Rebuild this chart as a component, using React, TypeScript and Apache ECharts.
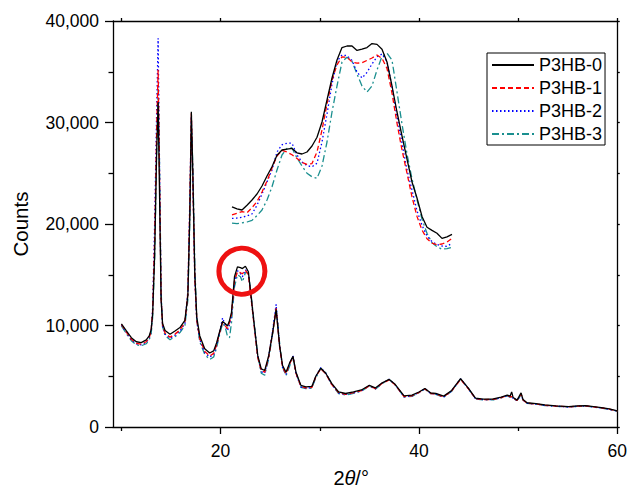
import React, { useEffect, useRef } from "react";
import * as echarts from "echarts";

const seriesNames = ["P3HB-0", "P3HB-1", "P3HB-2", "P3HB-3"];

const twoTheta = [
  10, 10.5, 11, 11.5, 12, 12.5, 12.8, 13.0, 13.15, 13.35, 13.55, 13.7, 13.85, 14.0, 14.15, 14.4, 14.9, 15.4, 15.9, 16.4,
  16.7, 16.9, 17.05, 17.2, 17.4, 17.6, 17.9, 18.4, 18.9, 19.3, 19.6, 19.9, 20.2, 20.45, 20.7, 20.9, 21.1, 21.4, 21.7, 22.0,
  22.2, 22.5, 22.8, 23.05, 23.4, 23.75, 24.1, 24.45, 24.85, 25.25, 25.6, 25.95, 26.25, 26.6, 27.0, 27.3, 27.6, 28.1, 28.6, 29.2,
  29.6, 30.1, 30.6, 31.2, 31.9, 32.6, 33.4, 34.2, 35.0, 35.6, 36.3, 37.0, 37.6, 38.5, 39.3, 40.0, 40.6, 41.2, 41.7, 42.5,
  43.3, 44.2, 45.0, 45.7, 46.5, 47.5, 48.3, 48.9, 49.2, 49.35, 49.5, 49.9, 50.3, 50.5, 50.9, 51.8, 52.7, 53.8, 55.1, 56.0,
  56.8, 57.6, 58.4, 59.2, 60,
];

const p3hb0 = [
  10170, 9460, 8800, 8400, 8320, 8580, 8970, 9600, 11200, 17000, 27000, 32000, 22500, 12500, 10200, 9500, 9140, 9460, 9800, 10500,
  13000, 21000, 31060, 25000, 15000, 10800, 8970, 7700, 7290, 7500, 8300, 9400, 10400, 10200, 9950, 10500, 11300, 14800, 15780, 15700,
  15610, 15840, 15300, 13100, 10000, 7030, 5730, 5570, 7030, 9290, 11570, 8000, 6060, 5400, 6400, 6960, 5400, 4100, 3950, 4000,
  5000, 5790, 5300, 4300, 3450, 3300, 3450, 3650, 4110, 3850, 4350, 4690, 4200, 3070, 3140, 3450, 3790, 3350, 3320, 3040,
  3600, 4760, 3800, 2850, 2750, 2760, 2950, 3140, 3050, 3460, 2900, 2650, 3360, 2700, 2390, 2300, 2170, 2080, 2000, 2080,
  2100, 2000, 1900, 1780, 1580,
];

const p3hb1 = [
  10100, 9350, 8650, 8250, 8150, 8400, 8800, 9450, 11500, 18500, 29000, 35200, 24000, 12800, 10000, 9250, 8850, 9150, 9550, 10300,
  13200, 22000, 30900, 24500, 14600, 10500, 8700, 7450, 7000, 7250, 8100, 9300, 10300, 10000, 9700, 10300, 11100, 14400, 15300, 15200,
  15100, 15450, 15000, 12900, 9800, 6850, 5550, 5400, 6900, 9300, 11700, 7900, 5900, 5250, 6300, 6900, 5300, 4000, 3850, 3900,
  4950, 5750, 5250, 4200, 3380, 3220, 3380, 3580, 4050, 3780, 4300, 4650, 4150, 3000, 3080, 3400, 3750, 3300, 3260, 2980,
  3550, 4700, 3750, 2800, 2700, 2720, 2900, 3100, 2980, 3000, 2850, 2620, 3250, 2650, 2350, 2270, 2140, 2060, 1980, 2050,
  2080, 1980, 1880, 1760, 1570,
];

const p3hb2 = [
  10050, 9300, 8600, 8200, 8100, 8350, 8750, 9400, 11800, 20000, 31000, 38300, 25000, 12900, 9900, 9150, 8750, 9050, 9450, 10200,
  13400, 22500, 30600, 24500, 14500, 10400, 8600, 7350, 6900, 7150, 8050, 9350, 10750, 10100, 9500, 10100, 11000, 14300, 15400, 15100,
  14800, 15500, 15100, 13000, 9900, 6900, 5450, 5300, 6950, 9500, 12080, 8000, 5850, 5200, 6350, 7000, 5250, 3950, 3820, 3880,
  5000, 5850, 5300, 4200, 3350, 3200, 3360, 3570, 4080, 3760, 4320, 4700, 4150, 2980, 3060, 3400, 3780, 3290, 3250, 2960,
  3560, 4750, 3760, 2780, 2690, 2700, 2890, 3080, 2960, 2980, 2840, 2600, 3200, 2640, 2340, 2260, 2130, 2050, 1970, 2040,
  2070, 1970, 1870, 1750, 1560,
];

const p3hb3 = [
  9950, 9200, 8500, 8100, 8000, 8200, 8600, 9200, 10800, 16500, 27000, 33300, 25500, 13500, 9900, 9000, 8600, 8900, 9300, 10000,
  12500, 20500, 29800, 26000, 16000, 10500, 8400, 7150, 6650, 6900, 7800, 9100, 10200, 9900, 8900, 8800, 10300, 13800, 15000, 14800,
  14300, 15200, 15200, 13300, 10100, 6900, 5300, 5100, 6700, 9200, 11800, 8300, 5900, 5050, 6100, 6900, 5400, 3900, 3780, 3820,
  4850, 5800, 5350, 4250, 3300, 3150, 3320, 3530, 4050, 3720, 4280, 4680, 4180, 2950, 3020, 3370, 3760, 3270, 3220, 2930,
  3520, 4720, 3780, 2760, 2670, 2680, 2870, 3060, 2950, 2970, 2820, 2590, 3180, 2630, 2330, 2250, 2120, 2040, 1960, 2030,
  2060, 1960, 1860, 1740, 1550,
];

// Inset (magnified view of the circled region)
const insetTwoTheta = [
  21.0, 21.05, 21.1, 21.15, 21.2, 21.25, 21.3, 21.35, 21.4, 21.45, 21.5, 21.55, 21.6, 21.65, 21.7,
  21.75, 21.8, 21.85, 21.9, 21.95, 22.0, 22.05, 22.1, 22.15, 22.2, 22.25, 22.3, 22.35, 22.4, 22.45,
  22.5, 22.55, 22.6, 22.65, 22.7, 22.75, 22.8, 22.85, 22.9, 22.95, 23.0, 23.05, 23.1, 23.15, 23.2,
];
const insetP3hb0 = [
  11780, 11730, 11700, 11820, 11950, 12100, 12300, 12550, 12780, 13070, 13200, 13220, 13240, 13130, 13100,
  13150, 13300, 13520, 13900, 14450, 15000, 15450, 15760, 15800, 15800, 15690, 15720, 15760, 15860, 15840,
  15720, 15400, 14800, 14150, 13550, 12970, 12400, 12000, 11540, 11270, 11190, 11120, 10990, 11030, 11090,
];
const insetP3hb1 = [
  11580, 11620, 11660, 11630, 11760, 11910, 12150, 12420, 12750, 13050, 13190, 13150, 13080, 12990, 12890,
  12840, 12860, 13150, 13700, 14350, 14950, 15330, 15530, 15520, 15400, 15370, 15380, 15440, 15500, 15575,
  15490, 15240, 14620, 13870, 13200, 12620, 12030, 11540, 11200, 10980, 10870, 10830, 10850, 10900, 10990,
];
const insetP3hb2 = [
  11490, 11500, 11520, 11550, 11600, 11820, 12100, 12400, 12700, 13150, 13330, 13370, 13370, 13075, 12900,
  12810, 12780, 12870, 13400, 14100, 14850, 15420, 15575, 15560, 15440, 15150, 15000, 15140, 15350, 15530,
  15600, 15410, 14780, 14030, 13370, 12700, 12200, 11680, 11320, 11050, 10910, 10840, 10800, 10790, 10870,
];
const insetP3hb3 = [
  11370, 11360, 11380, 11400, 11440, 11560, 11700, 11950, 12280, 12700, 13075, 13240, 13250, 13000, 12800,
  12620, 12530, 12490, 12800, 13400, 14150, 14800, 15400, 15520, 15420, 15100, 14800, 14650, 14800, 15200,
  15540, 15620, 15450, 14650, 13850, 13100, 12480, 11960, 11470, 11120, 10880, 10780, 10720, 10735, 10770,
];

const xMajorTicks = [20, 40, 60];
const xMinorTicks = [10, 30, 50];
const xTopTicks = [10, 20, 30, 40, 50, 60];
const circleCenter = [22.15, 15350];

const FONT = "'Liberation Sans', Arial, Helvetica, sans-serif";
const colors = ["#000000", "#ff0000", "#0000ff", "#1a8f8f"];
const dashTypes: any[] = ["solid", [5, 3], [1.5, 2.5], [7, 3, 2, 3]];

export default function App() {
  const ref = useRef<HTMLDivElement>(null);

  useEffect(() => {
    if (!ref.current) return;
    const chart = echarts.init(ref.current, null, { renderer: "svg" });

    const mainData = [p3hb0, p3hb1, p3hb2, p3hb3];
    const insetData = [insetP3hb0, insetP3hb1, insetP3hb2, insetP3hb3];

    const mainSeries = seriesNames.map((name, k) => ({
      name,
      type: "line",
      xAxisIndex: 0,
      yAxisIndex: 0,
      symbol: "none",
      showSymbol: false,
      z: 4 - k,
      data: twoTheta.map((x, i) => [x, mainData[k][i]]),
      lineStyle: { color: colors[k], width: 1.3, type: dashTypes[k] },
      itemStyle: { color: colors[k] },
    }));

    const insetSeries = seriesNames.map((name, k) => ({
      name,
      type: "line",
      xAxisIndex: 4,
      yAxisIndex: 2,
      symbol: "none",
      showSymbol: false,
      clip: false,
      z: 4 - k,
      data: insetTwoTheta.map((x, i) => [x, insetData[k][i]]),
      lineStyle: { color: colors[k], width: 1.3, type: dashTypes[k] },
      itemStyle: { color: colors[k] },
    }));

    const axisLineStyle = { color: "#000", width: 1.3 };
    const labelStyle = { color: "#000", fontSize: 17.5, fontFamily: FONT };

    const option: any = {
      animation: false,
      backgroundColor: "#fff",
      grid: [
        { left: 113, right: 11, top: 21, bottom: 61, containLabel: false },
        { left: 232, width: 223, top: 30, height: 230, containLabel: false },
      ],
      legend: {
        orient: "vertical",
        left: 487,
        top: 53,
        padding: [3, 3, 2, 4],
        itemWidth: 42,
        itemHeight: 14,
        itemGap: 5,
        borderColor: "#000",
        borderWidth: 1,
        borderRadius: 0,
        backgroundColor: "#fff",
        data: seriesNames,
        itemStyle: { opacity: 0 },
        textStyle: { color: "#000", fontSize: 18, fontFamily: FONT },
        selectedMode: false,
      },
      xAxis: [
        {
          type: "value",
          gridIndex: 0,
          position: "bottom",
          min: 9.15,
          max: 60,
          name: "2{i|θ}/°",
          nameLocation: "middle",
          nameGap: 41,
          nameTextStyle: {
            color: "#000",
            fontSize: 20,
            fontFamily: FONT,
            padding: [0, 28, 0, 0],
            rich: { i: { fontStyle: "italic", fontSize: 20, fontFamily: FONT, color: "#000" } },
          },
          axisLine: { show: true, lineStyle: axisLineStyle },
          axisTick: { show: true, inside: false, length: 7, lineStyle: axisLineStyle, customValues: xMajorTicks },
          axisLabel: { show: true, margin: 15, ...labelStyle, customValues: xMajorTicks },
          splitLine: { show: false },
        },
        {
          type: "value",
          gridIndex: 0,
          position: "bottom",
          min: 9.15,
          max: 60,
          axisLine: { show: false },
          axisTick: { show: true, inside: false, length: 4, lineStyle: axisLineStyle, customValues: xMinorTicks },
          axisLabel: { show: false },
          splitLine: { show: false },
        },
        {
          type: "value",
          gridIndex: 0,
          position: "top",
          min: 9.15,
          max: 60,
          axisLine: { show: true, lineStyle: axisLineStyle },
          axisTick: { show: true, inside: false, length: 3, lineStyle: axisLineStyle, customValues: xTopTicks },
          axisLabel: { show: false },
          splitLine: { show: false },
        },
        {
          type: "value",
          gridIndex: 0,
          position: "bottom",
          min: 9.15,
          max: 60,
          show: false,
        },
        {
          type: "value",
          gridIndex: 1,
          min: 21.0,
          max: 23.23,
          show: false,
        },
      ],
      yAxis: [
        {
          type: "value",
          gridIndex: 0,
          position: "left",
          min: 0,
          max: 40000,
          interval: 10000,
          name: "Counts",
          nameLocation: "middle",
          nameGap: 82,
          nameTextStyle: { color: "#000", fontSize: 20.5, fontFamily: FONT },
          axisLine: { show: true, lineStyle: axisLineStyle },
          axisTick: { show: true, inside: false, length: 8, lineStyle: axisLineStyle },
          minorTick: { show: true, splitNumber: 2, length: 4.5, lineStyle: axisLineStyle },
          axisLabel: {
            show: true,
            margin: 14,
            ...labelStyle,
            formatter: (v: number) => v.toLocaleString("en-US"),
          },
          splitLine: { show: false },
        },
        {
          type: "value",
          gridIndex: 0,
          position: "right",
          min: 0,
          max: 40000,
          interval: 5000,
          axisLine: { show: true, lineStyle: axisLineStyle },
          axisTick: { show: true, inside: false, length: 2.5, lineStyle: axisLineStyle },
          axisLabel: { show: false },
          splitLine: { show: false },
        },
        {
          type: "value",
          gridIndex: 1,
          min: 10450,
          max: 16200,
          show: false,
        },
      ],
      series: [...mainSeries, ...insetSeries],
    };

    chart.setOption(option);

    const c = chart.convertToPixel({ xAxisIndex: 0, yAxisIndex: 0 } as any, circleCenter) as number[];
    if (c && isFinite(c[0]) && isFinite(c[1])) {
      chart.setOption({
        graphic: [
          {
            type: "circle",
            shape: { cx: c[0], cy: c[1], r: 23 },
            style: { fill: "none", stroke: "#ee1111", lineWidth: 5 },
            z: 100,
            silent: true,
          },
        ],
      });
    }

    return () => chart.dispose();
  }, []);

  return (
    <div
      ref={ref}
      style={{ position: "fixed", left: 0, top: 0, width: 630, height: 493, background: "#fff" }}
    />
  );
}
